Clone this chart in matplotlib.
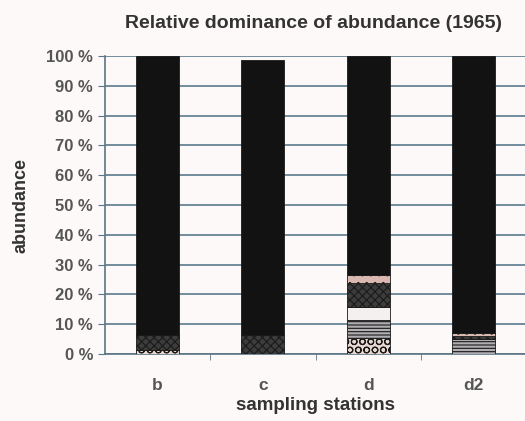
import numpy as np
import matplotlib.pyplot as plt

plt.rcParams['font.family'] = ['Liberation Sans', 'DejaVu Sans']
plt.rcParams['hatch.linewidth'] = 0.8

# stations and stacked percentages (bottom to top)
stations = ['b', 'c', 'd', 'd2']
checker = [1.5, 0.0, 5.4, 0.0]
wavy = [0.0, 0.0, 6.0, 5.0]
light = [0.0, 0.0, 4.4, 0.0]
dark_dots = [5.0, 6.5, 8.0, 1.0]
pink_dots = [0.0, 0.0, 2.7, 1.0]
black = [93.5, 92.0, 73.5, 93.0]

series = [
    (checker, '#e8d8d0', 'OO'),
    (wavy, '#b0aeb0', '-----'),
    (light, '#f4f0f0', ''),
    (dark_dots, '#3c3c3c', 'xxxx'),
    (pink_dots, '#d8b8b0', '..'),
    (black, '#121212', ''),
]

fig = plt.figure(figsize=(5.25, 4.21), dpi=100, facecolor='#fdf9f8')
ax = fig.add_axes([0.2, 0.159, 0.802, 0.708])
ax.set_facecolor('#fdf9f8')

x = np.arange(len(stations))
bottom = np.zeros(len(stations))
for vals, col, hatch in series:
    vals = np.array(vals)
    ax.bar(x, vals, 0.41, bottom=bottom, color=col, hatch=hatch,
           edgecolor='#1a1a1a', linewidth=0.6, zorder=3)
    bottom += vals

ax.set_xlim(-0.5, 3.5)
ax.set_ylim(0, 100)
ax.set_yticks(np.arange(0, 101, 10))
ax.set_yticklabels([f'{v} %' for v in range(0, 101, 10)], fontweight='bold')
ax.set_xticks(x)
ax.set_xticklabels(stations, fontweight='bold')
ax.set_xticks([0.5, 1.5, 2.5], minor=True)
ax.tick_params(axis='x', which='major', length=0, pad=17, labelsize=12.5, colors='#555555')
ax.tick_params(axis='x', which='minor', length=4, direction='out', color='#5a7585')
ax.tick_params(axis='y', length=5, direction='out', color='#5a7585',
               labelsize=12, labelcolor='#555555')

ax.grid(axis='y', color='#5a7a8c', linewidth=1.2, zorder=0)
for s in ['top', 'right']:
    ax.spines[s].set_visible(False)
for s in ['left', 'bottom']:
    ax.spines[s].set_color('#5a7585')
    ax.spines[s].set_linewidth(1.2)

ax.set_xlabel('sampling stations', fontsize=13.5, fontweight='bold', color='#333333', labelpad=3)
ax.set_ylabel('abundance', fontsize=13, fontweight='bold', color='#333333', labelpad=12)
fig.text(0.597, 0.944, 'Relative dominance of abundance (1965)', ha='center', va='center',
         fontsize=14, fontweight='bold', color='#333333')

fig.savefig('out.png', dpi=100, facecolor=fig.get_facecolor())
